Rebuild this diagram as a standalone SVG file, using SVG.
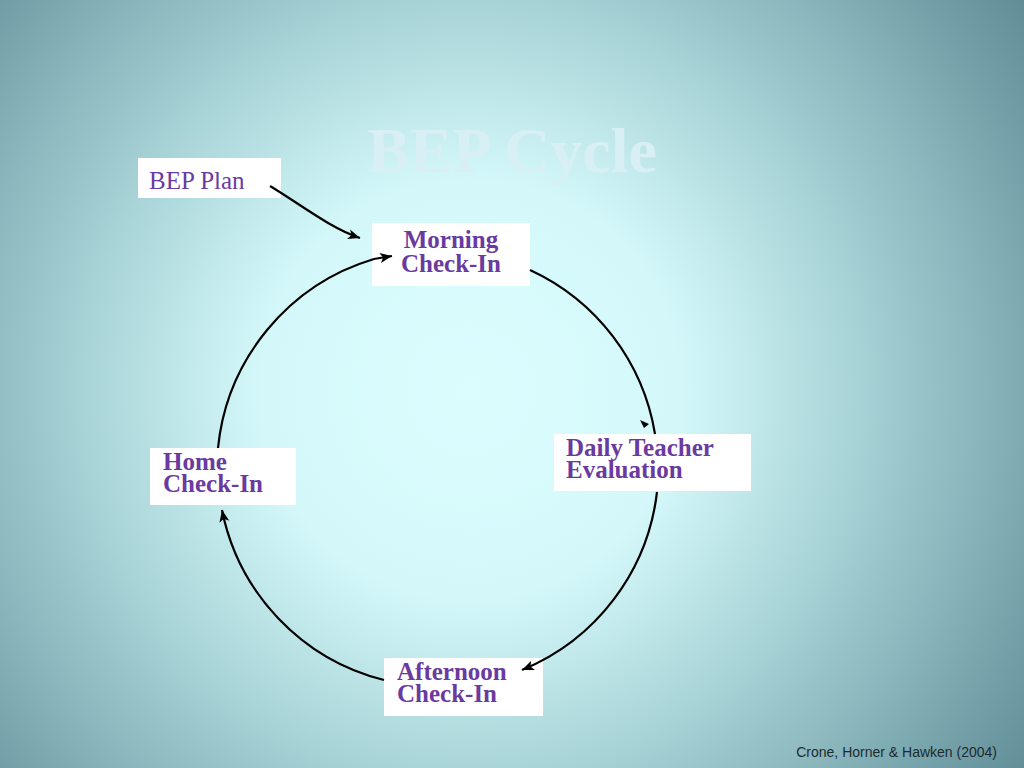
<svg xmlns="http://www.w3.org/2000/svg" width="1024" height="768" viewBox="0 0 1024 768">
<defs>
<radialGradient id="bg" cx="470" cy="390" r="700" gradientUnits="userSpaceOnUse">
<stop offset="0" stop-color="#dcfdfe"/>
<stop offset="0.3" stop-color="#d4f8fa"/>
<stop offset="0.55" stop-color="#a8d3d7"/>
<stop offset="0.85" stop-color="#74a1a9"/>
<stop offset="1" stop-color="#5c8791"/>
</radialGradient>
<marker id="ah" markerUnits="userSpaceOnUse" markerWidth="14" markerHeight="12" refX="12" refY="6" orient="auto">
<path d="M0,1 L12,6 L0,11 L3,6 Z" fill="#000"/>
</marker>
<style>
.box{fill:#fff}
.lbl{font-family:"Liberation Serif","Times New Roman",serif;font-size:25px;font-weight:bold;fill:#6a3aa0}
.conn{fill:none;stroke:#000;stroke-width:2.2}
</style>
</defs>
<rect width="1024" height="768" fill="url(#bg)"/>
<text x="512" y="172" text-anchor="middle" font-family="Liberation Serif,'Times New Roman',serif" font-size="64" font-weight="bold" fill="#d8f0f3">BEP Cycle</text>

<g id="bep-plan">
<rect class="box" x="138" y="158" width="143" height="40"/>
<text x="149" y="189" font-family="Liberation Serif,'Times New Roman',serif" font-size="25" fill="#6a3aa0">BEP Plan</text>
</g>
<g id="morning">
<rect class="box" x="372" y="223" width="158" height="63"/>
<text class="lbl" x="451" y="248" text-anchor="middle">Morning</text>
<text class="lbl" x="451" y="272" text-anchor="middle">Check-In</text>
</g>
<g id="daily">
<rect class="box" x="554" y="434" width="197" height="57"/>
<text class="lbl" x="566" y="456">Daily Teacher</text>
<text class="lbl" x="566" y="478">Evaluation</text>
</g>
<g id="home">
<rect class="box" x="150" y="448" width="146" height="57"/>
<text class="lbl" x="163" y="470">Home</text>
<text class="lbl" x="163" y="492">Check-In</text>
</g>
<g id="afternoon">
<rect class="box" x="384" y="658" width="159" height="58"/>
<text class="lbl" x="397" y="680">Afternoon</text>
<text class="lbl" x="397" y="702">Check-In</text>
</g>

<g id="connectors">
<path class="conn" d="M270,186 C300,204 330,228 360,238" marker-end="url(#ah)"/>
<path class="conn" d="M530,270 A220 220 0 0 1 655,434"/>
<polygon points="640,420 649,424 644,428" fill="#000"/>
<path class="conn" d="M657,492 A220 220 0 0 1 522,670" marker-end="url(#ah)"/>
<path class="conn" d="M384,680 A220 220 0 0 1 222,510" marker-end="url(#ah)"/>
<path class="conn" d="M218,448 A220 220 0 0 1 374,259 L392,256" marker-end="url(#ah)"/>
</g>

<text x="997" y="757" text-anchor="end" font-family="Liberation Sans,Arial,sans-serif" font-size="14" fill="#1c2b30">Crone, Horner &amp; Hawken (2004)</text>
</svg>
